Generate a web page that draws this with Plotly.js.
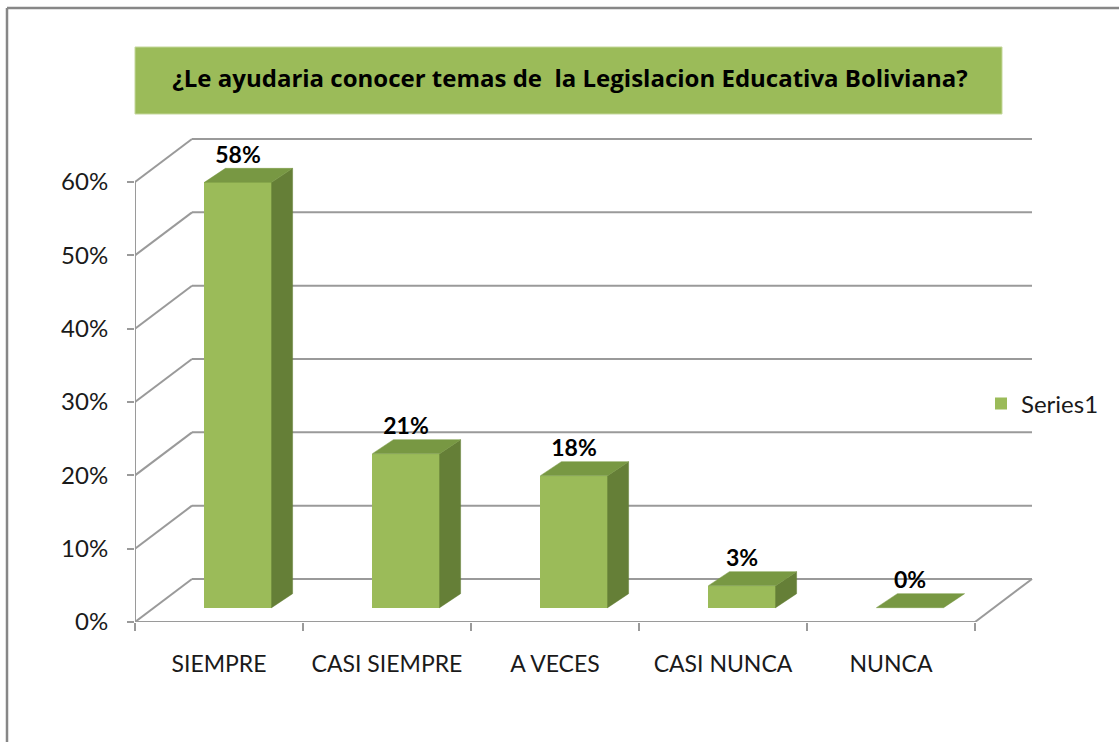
<!DOCTYPE html>
<html>
<head>
<meta charset="utf-8">
<script src="https://cdn.plot.ly/plotly-3.0.1.min.js"></script>
<style>html,body{margin:0;padding:0;background:#fff;}#chart{width:1119px;height:742px;}</style>
</head>
<body>
<div id="chart"></div>
<script>
// ---- data ----
const categories = ['SIEMPRE', 'CASI SIEMPRE', 'A VECES', 'CASI NUNCA', 'NUNCA'];
const values = [58, 21, 18, 3, 0];
const valueLabels = ['58%', '21%', '18%', '3%', '0%'];
const yTickVals = [0, 10, 20, 30, 40, 50, 60];
const yTickText = ['0%', '10%', '20%', '30%', '40%', '50%', '60%'];
const seriesName = 'Series1';
const chartTitle = '¿Le ayudaria conocer temas de  la Legislacion Educativa Boliviana?';

// ---- geometry / style (axis units) ----
const W = 1119, H = 742;
const ML = 135, MR = 84, MT = 125, MB = 120;
const PX_PER_CAT = 168, PX_PER_PCT = 7.333;
const xMin = -0.5, xMax = xMin + (W - ML - MR) / PX_PER_CAT;
const yMin = 0, yMax = (H - MT - MB) / PX_PER_PCT;
const DX = 57 / PX_PER_CAT, DY = 43 / PX_PER_PCT;     // full floor depth
const BX = DX / 3, BY = DY / 3;                       // bar front plane offset
const BDX = 21 / PX_PER_CAT, BDY = 14 / PX_PER_PCT;   // bar depth
const BW = 0.4;
const nCat = categories.length;
const gridColor = '#9a9a9a';
const font = 'Lato, "Open Sans", sans-serif';
const titleFont = '"Open Sans", Lato, sans-serif';

// paper-coord helpers for layout decorations
const pxX = p => (p - ML) / (W - ML - MR);
const pxY = p => (H - MB - p) / (H - MT - MB);

// ---- bar faces ----
const topX = [], topY = [], sideX = [], sideY = [];
values.forEach((v, i) => {
  const x0 = i + BX - BW / 2, x1 = i + BX + BW / 2;
  const b = BY, t = BY + v;
  topX.push(x0, x1, x1 + BDX, x0 + BDX, x0, null);
  topY.push(t, t, t + BDY, t + BDY, t, null);
  if (v > 0) {
    sideX.push(x1, x1, x1 + BDX, x1 + BDX, x1, null);
    sideY.push(b, t, t + BDY, b + BDY, b, null);
  }
});

const traces = [
  {
    type: 'bar', name: seriesName,
    x: categories.map((c, i) => i + BX), y: values, base: BY, width: BW,
    marker: {color: '#9BBB59', line: {width: 0}},
    hoverinfo: 'skip', showlegend: true
  },
  {
    type: 'scatter', mode: 'lines', x: sideX, y: sideY, fill: 'toself',
    fillcolor: '#657F37', line: {color: '#657F37', width: 0.5},
    hoverinfo: 'skip', showlegend: false
  },
  {
    type: 'scatter', mode: 'lines', x: topX, y: topY, fill: 'toself',
    fillcolor: '#789843', line: {color: '#789843', width: 0.5},
    hoverinfo: 'skip', showlegend: false
  },
  {
    type: 'scatter', mode: 'text',
    x: categories.map((c, i) => i + BX), y: values.map(v => BY + v + BDY),
    text: valueLabels, textposition: 'top center',
    textfont: {family: font, size: 23, color: '#000', weight: 'bold'},
    cliponaxis: false, hoverinfo: 'skip', showlegend: false
  },
  // invisible trace on the tick-only axis
  {
    type: 'scatter', mode: 'markers', x: [xMin], y: [0], xaxis: 'x2',
    marker: {opacity: 0}, hoverinfo: 'skip', showlegend: false
  }
];

// ---- walls / floor / grid as shapes (from tick values) ----
const shapes = [];
const gl = {color: gridColor, width: 2};
yTickVals.forEach(v => {
  shapes.push({type: 'line', xref: 'x', yref: 'y', layer: 'below',
    x0: xMin + DX, x1: xMin + nCat + DX, y0: v + DY, y1: v + DY, line: gl});
  shapes.push({type: 'line', xref: 'x', yref: 'y', layer: 'below',
    x0: xMin, x1: xMin + DX, y0: v, y1: v + DY, line: gl});
});
// front axis lines and floor right edge
shapes.push({type: 'line', xref: 'x', yref: 'y', layer: 'below',
  x0: xMin, x1: xMin, y0: 0, y1: yTickVals[yTickVals.length - 1], line: gl});
shapes.push({type: 'line', xref: 'x', yref: 'y', layer: 'below',
  x0: xMin, x1: xMin + nCat, y0: 0, y1: 0, line: gl});
shapes.push({type: 'line', xref: 'x', yref: 'y', layer: 'below',
  x0: xMin + nCat, x1: xMin + nCat + DX, y0: 0, y1: DY, line: gl});
// title box
shapes.push({type: 'rect', xref: 'paper', yref: 'paper', layer: 'below',
  x0: pxX(135), x1: pxX(1002), y0: pxY(114), y1: pxY(47),
  fillcolor: '#9BBB59', line: {color: '#c4d79b', width: 1}});
// outer chart border (top and left visible)
shapes.push({type: 'line', xref: 'paper', yref: 'paper', layer: 'below',
  x0: pxX(7), x1: pxX(1130), y0: pxY(8), y1: pxY(8), line: {color: '#878787', width: 2.5}});
shapes.push({type: 'line', xref: 'paper', yref: 'paper', layer: 'below',
  x0: pxX(7), x1: pxX(7), y0: pxY(8), y1: pxY(760), line: {color: '#878787', width: 2.5}});

const layout = {
  width: W, height: H,
  margin: {l: ML, r: MR, t: MT, b: MB, pad: 0},
  paper_bgcolor: '#fff', plot_bgcolor: 'rgba(0,0,0,0)',
  font: {family: font, color: '#1a1a1a'},
  title: {
    text: chartTitle, xref: 'container', yref: 'container',
    x: 570 / W, y: 1 - 79 / H, xanchor: 'center', yanchor: 'middle',
    font: {family: titleFont, size: 24, color: '#000', weight: 'bold'}
  },
  xaxis: {
    range: [xMin, xMax], tickvals: categories.map((c, i) => i), ticktext: categories,
    showgrid: false, zeroline: false, showline: false, ticks: '',
    tickfont: {family: font, size: 23, color: '#1a1a1a'}, ticklabelstandoff: 26,
    fixedrange: true
  },
  xaxis2: {
    overlaying: 'x', matches: 'x', anchor: 'y', side: 'bottom',
    tickvals: categories.map((c, i) => i - 0.5).concat([nCat - 0.5]),
    showticklabels: false, ticks: 'outside', ticklen: 8, tickwidth: 2, tickcolor: gridColor,
    showgrid: false, zeroline: false, showline: false
  },
  yaxis: {
    range: [yMin, yMax], tickvals: yTickVals, ticktext: yTickText,
    showgrid: false, zeroline: false, showline: false,
    ticks: 'outside', ticklen: 7, tickwidth: 2, tickcolor: gridColor,
    tickfont: {family: font, size: 24, color: '#1a1a1a'}, ticklabelstandoff: 14,
    fixedrange: true
  },
  bargap: 0,
  legend: {
    x: pxX(981), y: pxY(404), xanchor: 'left', yanchor: 'middle',
    font: {family: font, size: 24, color: '#1a1a1a'}, bgcolor: 'rgba(0,0,0,0)',
    itemwidth: 30
  },
  showlegend: true,
  shapes: shapes
};

Plotly.newPlot('chart', traces, layout, {displayModeBar: false, staticPlot: true});
</script>
</body>
</html>
